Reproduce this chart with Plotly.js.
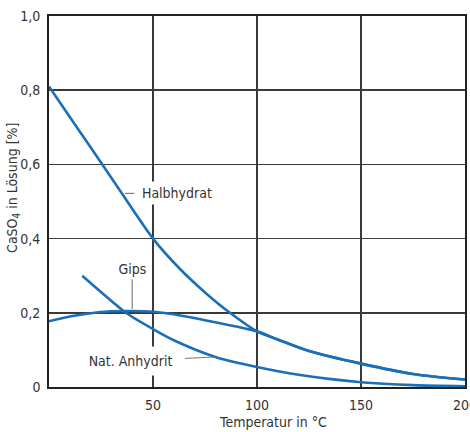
<!DOCTYPE html>
<html>
<head>
<meta charset="utf-8">
<script src="https://cdn.plot.ly/plotly-3.0.1.min.js"></script>
<style>
  html, body { margin: 0; padding: 0; background: #fff; }
  #chart { width: 470px; height: 432px; }
  #chart svg text { font-stretch: condensed; }
</style>
</head>
<body>
<div id="chart"></div>
<script>
// Solubility of calcium sulfate phases in water (% CaSO4) versus temperature (°C)
const halbhydratT = [0, 10, 20, 25, 35, 50, 63, 75, 87, 100, 110, 125, 150, 175, 200];
const halbhydratV = [0.81, 0.728, 0.646, 0.605, 0.522, 0.40, 0.318, 0.255, 0.20, 0.15, 0.128, 0.097, 0.063, 0.035, 0.02];

const gipsT = [0, 10, 20, 30, 40, 50, 60, 75, 90, 100, 110, 125, 150, 175, 200];
const gipsV = [0.177, 0.19, 0.199, 0.204, 0.205, 0.203, 0.196, 0.18, 0.163, 0.15, 0.128, 0.097, 0.063, 0.035, 0.02];

const anhydritT = [16, 25, 37, 50, 60, 80, 100, 120, 150, 175, 200];
const anhydritV = [0.30, 0.256, 0.20, 0.156, 0.126, 0.081, 0.054, 0.033, 0.013, 0.005, 0.002];

const yTickVals = [0, 0.2, 0.4, 0.6, 0.8, 1.0];
const yTickText = ['0', '0,2', '0,4', '0,6', '0,8', '1,0'];
const xTickVals = [50, 100, 150, 200];
const xTickText = ['50', '100', '150', '200'];

const FONT = 'DejaVu Sans, sans-serif';
const BLUE = '#1b6fb8';
const TEXT = '#333333';
const GRID = '#3a3a3a';

function curve(x, y, name) {
  return {
    x: x, y: y, name: name, type: 'scatter', mode: 'lines',
    line: { color: BLUE, width: 2.6, shape: 'spline', smoothing: 0.8 },
    hoverinfo: 'skip'
  };
}

const data = [
  curve(halbhydratT, halbhydratV, 'Halbhydrat'),
  curve(gipsT, gipsV, 'Gips'),
  curve(anhydritT, anhydritV, 'Nat. Anhydrit')
];

const iH = halbhydratT.indexOf(35);
const iG = gipsT.indexOf(40);
const iA = anhydritT.indexOf(80);

const labelFont = { family: FONT, size: 14, color: TEXT };

const layout = {
  width: 470, height: 432,
  margin: { l: 49, r: 5, t: 16, b: 45 },
  paper_bgcolor: '#fff', plot_bgcolor: '#fff',
  showlegend: false,
  font: { family: FONT, size: 14, color: TEXT },
  xaxis: {
    range: [0, 200], tickvals: xTickVals, ticktext: xTickText,
    showgrid: true, gridcolor: GRID, gridwidth: 1.5,
    showline: true, linecolor: '#222', linewidth: 1.8, mirror: true,
    zeroline: false, ticks: '', ticklabelstandoff: 4,
    ticklabeloverflow: 'allow',
    tickfont: { family: FONT, size: 14, color: TEXT }
  },
  yaxis: {
    range: [0, 1.0], tickvals: yTickVals, ticktext: yTickText,
    showgrid: true, gridcolor: GRID, gridwidth: 1.5,
    showline: true, linecolor: '#222', linewidth: 1.8, mirror: true,
    zeroline: false, ticks: '', ticklabelstandoff: 4,
    tickfont: { family: FONT, size: 14, color: TEXT }
  },
  annotations: [
    {
      x: halbhydratT[iH], y: halbhydratV[iH], xref: 'x', yref: 'y',
      text: 'Halbhydrat', font: labelFont,
      showarrow: true, arrowhead: 0, arrowwidth: 1, arrowcolor: '#666',
      ax: 55, ay: 0, standoff: 3,
      bgcolor: '#fff', borderpad: 3
    },
    {
      x: gipsT[iG], y: gipsV[iG], xref: 'x', yref: 'y',
      text: 'Gips', font: labelFont,
      showarrow: true, arrowhead: 0, arrowwidth: 1, arrowcolor: '#666',
      ax: 0, ay: -42, standoff: 2,
      bgcolor: '#fff', borderpad: 2
    },
    {
      x: anhydritT[iA], y: anhydritV[iA], xref: 'x', yref: 'y',
      text: 'Nat. Anhydrit', font: labelFont,
      showarrow: true, arrowhead: 0, arrowwidth: 1, arrowcolor: '#777',
      ax: -84, ay: 4, standoff: 0,
      bgcolor: '#fff', borderpad: 6
    },
    {
      x: 0.538, y: -0.094, xref: 'paper', yref: 'paper',
      text: 'Temperatur in °C', font: labelFont,
      showarrow: false, xanchor: 'center', yanchor: 'middle'
    },
    {
      x: -0.0865, y: 0.536, xref: 'paper', yref: 'paper',
      text: 'CaSO<sub>4</sub> in Lösung [%]', font: labelFont,
      textangle: -90, showarrow: false, xanchor: 'center', yanchor: 'middle'
    }
  ]
};

Plotly.newPlot('chart', data, layout, { staticPlot: true, displayModeBar: false });
</script>
</body>
</html>
